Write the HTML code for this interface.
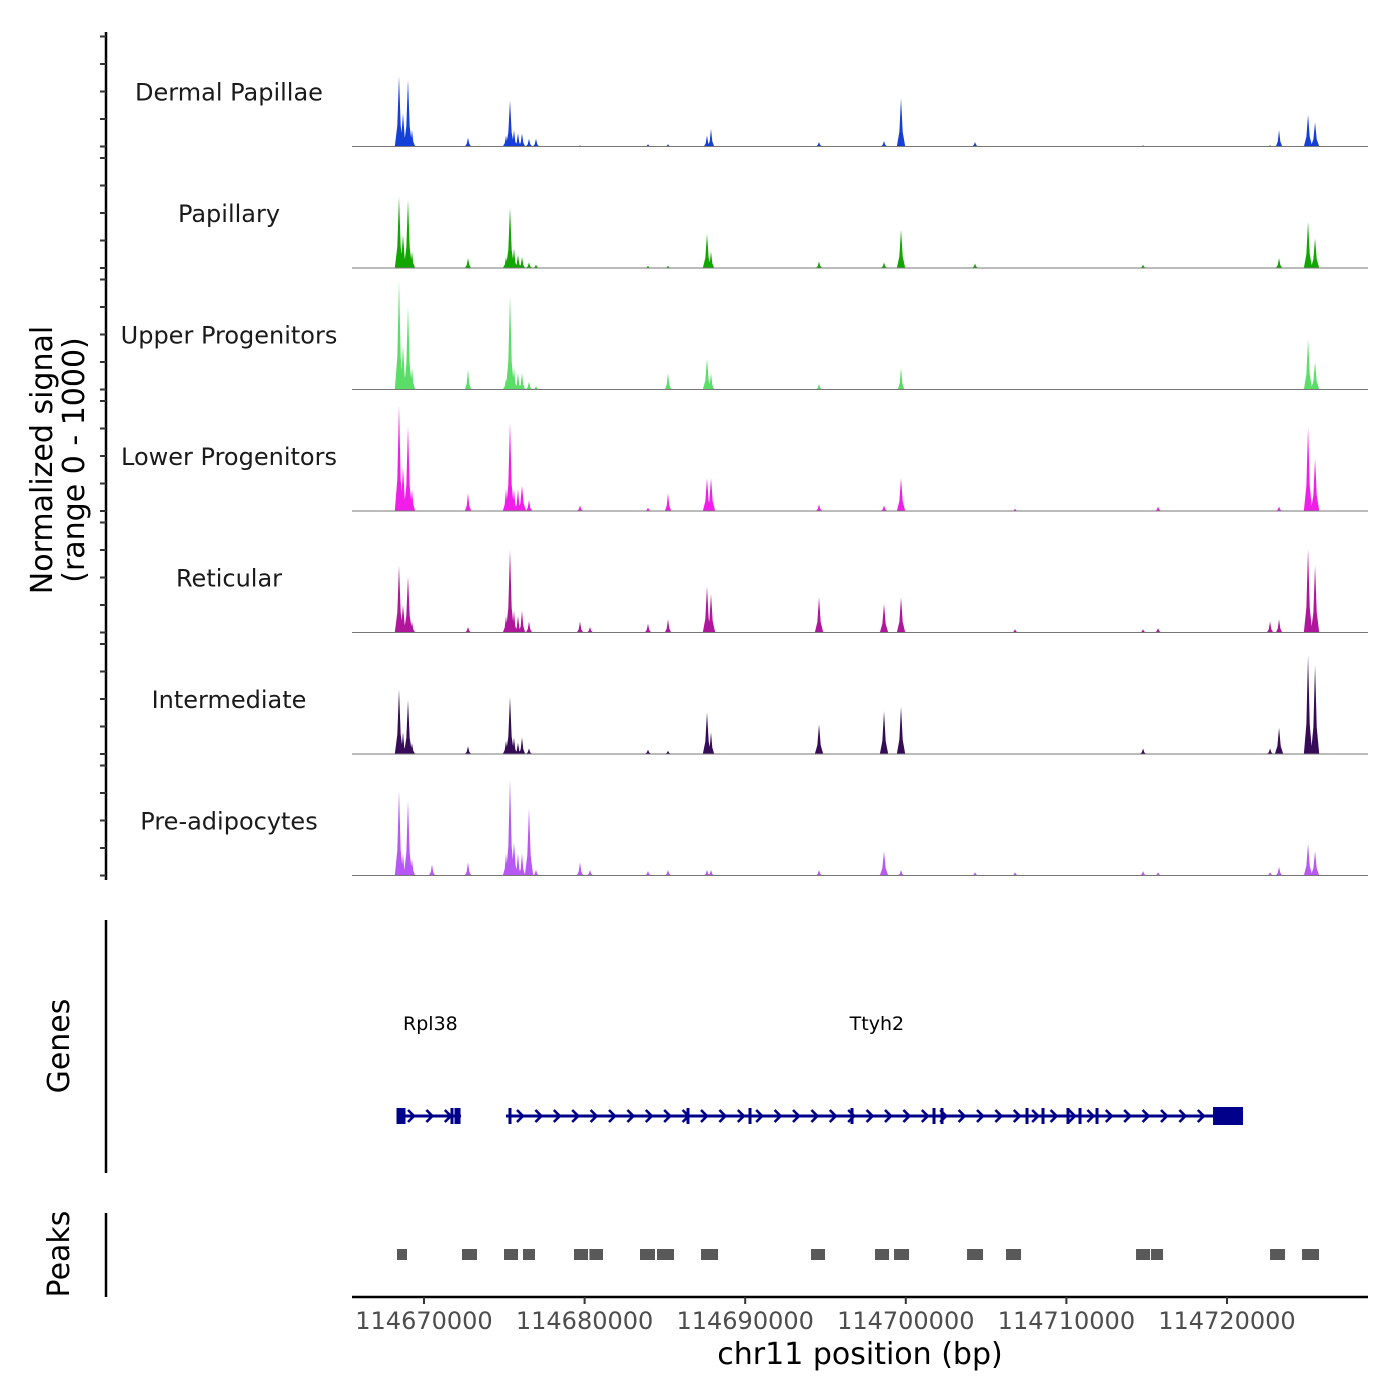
<!DOCTYPE html>
<html><head><meta charset="utf-8"><style>
body{margin:0;background:#fff}
svg{display:block;font-family:"DejaVu Sans","Liberation Sans",sans-serif}
</style></head><body>
<svg id="chart" width="1400" height="1400" viewBox="0 0 1400 1400" xmlns="http://www.w3.org/2000/svg">
<g id="tracks"></g>
<g id="genes"></g>
<g id="peaks"></g>
<g id="axes"></g>
<text transform="translate(52,460) rotate(-90)" text-anchor="middle" font-size="30" fill="#000">Normalized signal</text>
<text transform="translate(84,460) rotate(-90)" text-anchor="middle" font-size="30" fill="#000">(range 0 - 1000)</text>
<text transform="translate(69,1046) rotate(-90)" text-anchor="middle" font-size="30" fill="#000">Genes</text>
<text transform="translate(69,1254) rotate(-90)" text-anchor="middle" font-size="30" fill="#000">Peaks</text>
<text x="860" y="1364" text-anchor="middle" font-size="30" fill="#000">chr11 position (bp)</text>
</svg>
<script>
const trackNames=["Dermal Papillae","Papillary","Upper Progenitors","Lower Progenitors","Reticular","Intermediate","Pre-adipocytes"];
const trackColors=["#1440d8","#12a600","#5ade68","#f01ee8","#b0169c","#360c58","#b858f4"];
const peakPositions=[114668443,114668692,114669004,114669253,114670498,114672740,114675106,114675355,114675604,114675853,114676102,114676538,114676974,114679714,114680337,114683948,114685194,114687622,114687871,114694597,114698644,114699703,114704311,114706802,114714773,114715707,114722681,114723241,114725047,114725483];
const sigDermal=[.64,.3,.61,.15,0,.08,.1,.42,.15,.12,.12,.07,.07,.01,0,.02,.02,.1,.16,.04,.05,.44,.04,0,.01,0,.01,.15,.29,.22];
const sigPapillary=[.65,.3,.62,.15,0,.09,.1,.55,.18,.12,.1,.05,.03,0,0,.02,.02,.31,.15,.06,.05,.35,.04,0,.03,0,0,.09,.42,.27];
const sigUpper=[.99,.4,.75,.2,0,.18,.1,.85,.2,.15,.15,.07,.03,0,0,0,.15,.28,.15,.05,0,.2,0,0,0,0,0,0,.46,.25];
const sigLower=[.96,.4,.77,.2,0,.16,.2,.8,.2,.2,.23,.1,0,.05,0,.03,.16,.3,.3,.06,.05,.3,0,.02,0,.04,0,.04,.76,.48];
const sigReticular=[.61,.25,.51,.1,0,.05,.15,.75,.2,.15,.2,.1,0,.1,.05,.08,.12,.42,.35,.32,.26,.32,0,.03,.03,.04,.1,.12,.76,.61];
const sigIntermediate=[.59,.2,.49,.1,0,.07,.12,.52,.15,.1,.15,.05,0,0,0,.04,.03,.38,.2,.27,.39,.43,0,0,.05,0,.05,.24,.9,.81];
const sigPreadip=[.77,.2,.68,.15,.1,.12,.2,.87,.3,.2,.2,.61,.05,.12,.05,.04,.05,.05,.05,.05,.22,.05,.03,.03,.04,.03,.03,.08,.29,.22];
const signals=[sigDermal,sigPapillary,sigUpper,sigLower,sigReticular,sigIntermediate,sigPreadip];
const xTicks=[114670000,114680000,114690000,114700000,114710000,114720000];
const peakStarts=[114668319,114672366,114674982,114676165,114679340,114680300,114683450,114684509,114687249,114694098,114698084,114699267,114703813,114706241,114714336,114715270,114722680,114724673];
const peakEnds=[114668941,114673300,114675853,114676912,114680212,114681146,114684384,114685567,114688307,114694970,114698956,114700201,114704809,114707175,114715208,114716017,114723614,114725731];
const geneNames=["Rpl38","Ttyh2"];
const geneStarts=[114668319,114675106];
const geneEnds=[114672304,114720998];
const geneLabelPos=[114670400,114698200];
const exonPositions=[114668381,114668568,114668755,114671744,114671993,114672179,114675355,114686439,114690300,114696651,114701757,114702255,114707548,114708544,114710101,114710848,114711907];
const utrStart=[114719130];const utrEnd=[114720998];

const NS="http://www.w3.org/2000/svg";
const X0=352,X1=1368,B0=114665517,B1=114728780;
const xs=b=>X0+(b-B0)/(B1-B0)*(X1-X0);
const TOP=25,TH=121.5,RANGE=110;
const base=i=>TOP+TH*(i+1);
const ys=(i,v)=>base(i)-v*RANGE;
function mk(tag,attrs,parent){const e=document.createElementNS(NS,tag);for(const k in attrs)e.setAttribute(k,attrs[k]);parent.appendChild(e);return e;}
const tracks=document.getElementById('tracks');
signals.forEach((sig,i)=>{
  const g=mk('g',{},tracks);
  
  
  const lab=mk('text',{x:229,y:base(i)-46,'text-anchor':'middle','font-size':24,fill:'#1a1a1a'},g);
  lab.textContent=trackNames[i];
  
  
  let d='';
  sig.forEach((v,k)=>{
    if(v<=0)return;
    const cx=xs(peakPositions[k]);const hw=v>0.2?4.2:3.2;
    d+=`M${cx-hw},${base(i)}L${cx-hw*0.4},${ys(i,v*0.3)}L${cx},${ys(i,v)}L${cx+hw*0.4},${ys(i,v*0.3)}L${cx+hw},${base(i)}Z`;
  });
  const p=mk('path',{d:d,fill:trackColors[i]},g);
  
  
  const bl=mk('line',{x1:X0,x2:X1,y1:base(i),y2:base(i),stroke:'#777','stroke-width':1},g);
  
  
});
const axes=document.getElementById('axes');
let yl=mk('line',{x1:106,x2:106,y1:32,y2:880,stroke:'#000','stroke-width':2.5},axes);


for(let i=0;i<7;i++){for(let k=0;k<=4;k++){const y=base(i)-k*RANGE/4;
  const t=mk('line',{x1:100,x2:106,y1:y,y2:y,stroke:'#333','stroke-width':2},axes);
  
  }}
let gl=mk('line',{x1:106,x2:106,y1:920,y2:1173,stroke:'#000','stroke-width':2.5},axes);


let pl=mk('line',{x1:106,x2:106,y1:1213,y2:1297,stroke:'#000','stroke-width':2.5},axes);


let xl=mk('line',{x1:X0,x2:X1,y1:1297,y2:1297,stroke:'#000','stroke-width':2.5},axes);


xTicks.forEach(b=>{
  const t=mk('line',{x1:xs(b),x2:xs(b),y1:1297,y2:1304,stroke:'#333','stroke-width':2},axes);
  
  
  const tx=mk('text',{x:xs(b),y:1329,'text-anchor':'middle','font-size':24,fill:'#4d4d4d'},axes);
  tx.textContent=String(b);
  
  
});
const peaks=document.getElementById('peaks');
peakStarts.forEach((s,k)=>{
  const r=mk('rect',{x:xs(s),y:1249,width:xs(peakEnds[k])-xs(s),height:11,fill:'#595959'},peaks);
  
  
});
const genes=document.getElementById('genes');
const GY=1116,C='#00008b';
geneNames.forEach((n,k)=>{
  const l=mk('line',{x1:xs(geneStarts[k]),x2:xs(geneEnds[k]),y1:GY,y2:GY,stroke:C,'stroke-width':3},genes);
  
  
  const t=mk('text',{x:xs(geneLabelPos[k]),y:1030,'text-anchor':'middle','font-size':19,fill:'#000'},genes);
  t.textContent=n;
  
  
  let d='';
  for(let x=xs(geneStarts[k])+14;x<xs(geneEnds[k])-4;x+=18.4){d+=`M${x-3},${GY-6}L${x+3},${GY}L${x-3},${GY+6}`;}
  const a=mk('path',{d:d,stroke:C,'stroke-width':2.6,fill:'none'},genes);
  
  
});
exonPositions.forEach(b=>{
  const r=mk('rect',{x:xs(b)-1.5,y:GY-8,width:3,height:16,fill:C},genes);
  
  
});
const u=mk('rect',{x:xs(utrStart[0]),y:GY-9,width:xs(utrEnd[0])-xs(utrStart[0]),height:18,fill:C},genes);


</script>
</body></html>
